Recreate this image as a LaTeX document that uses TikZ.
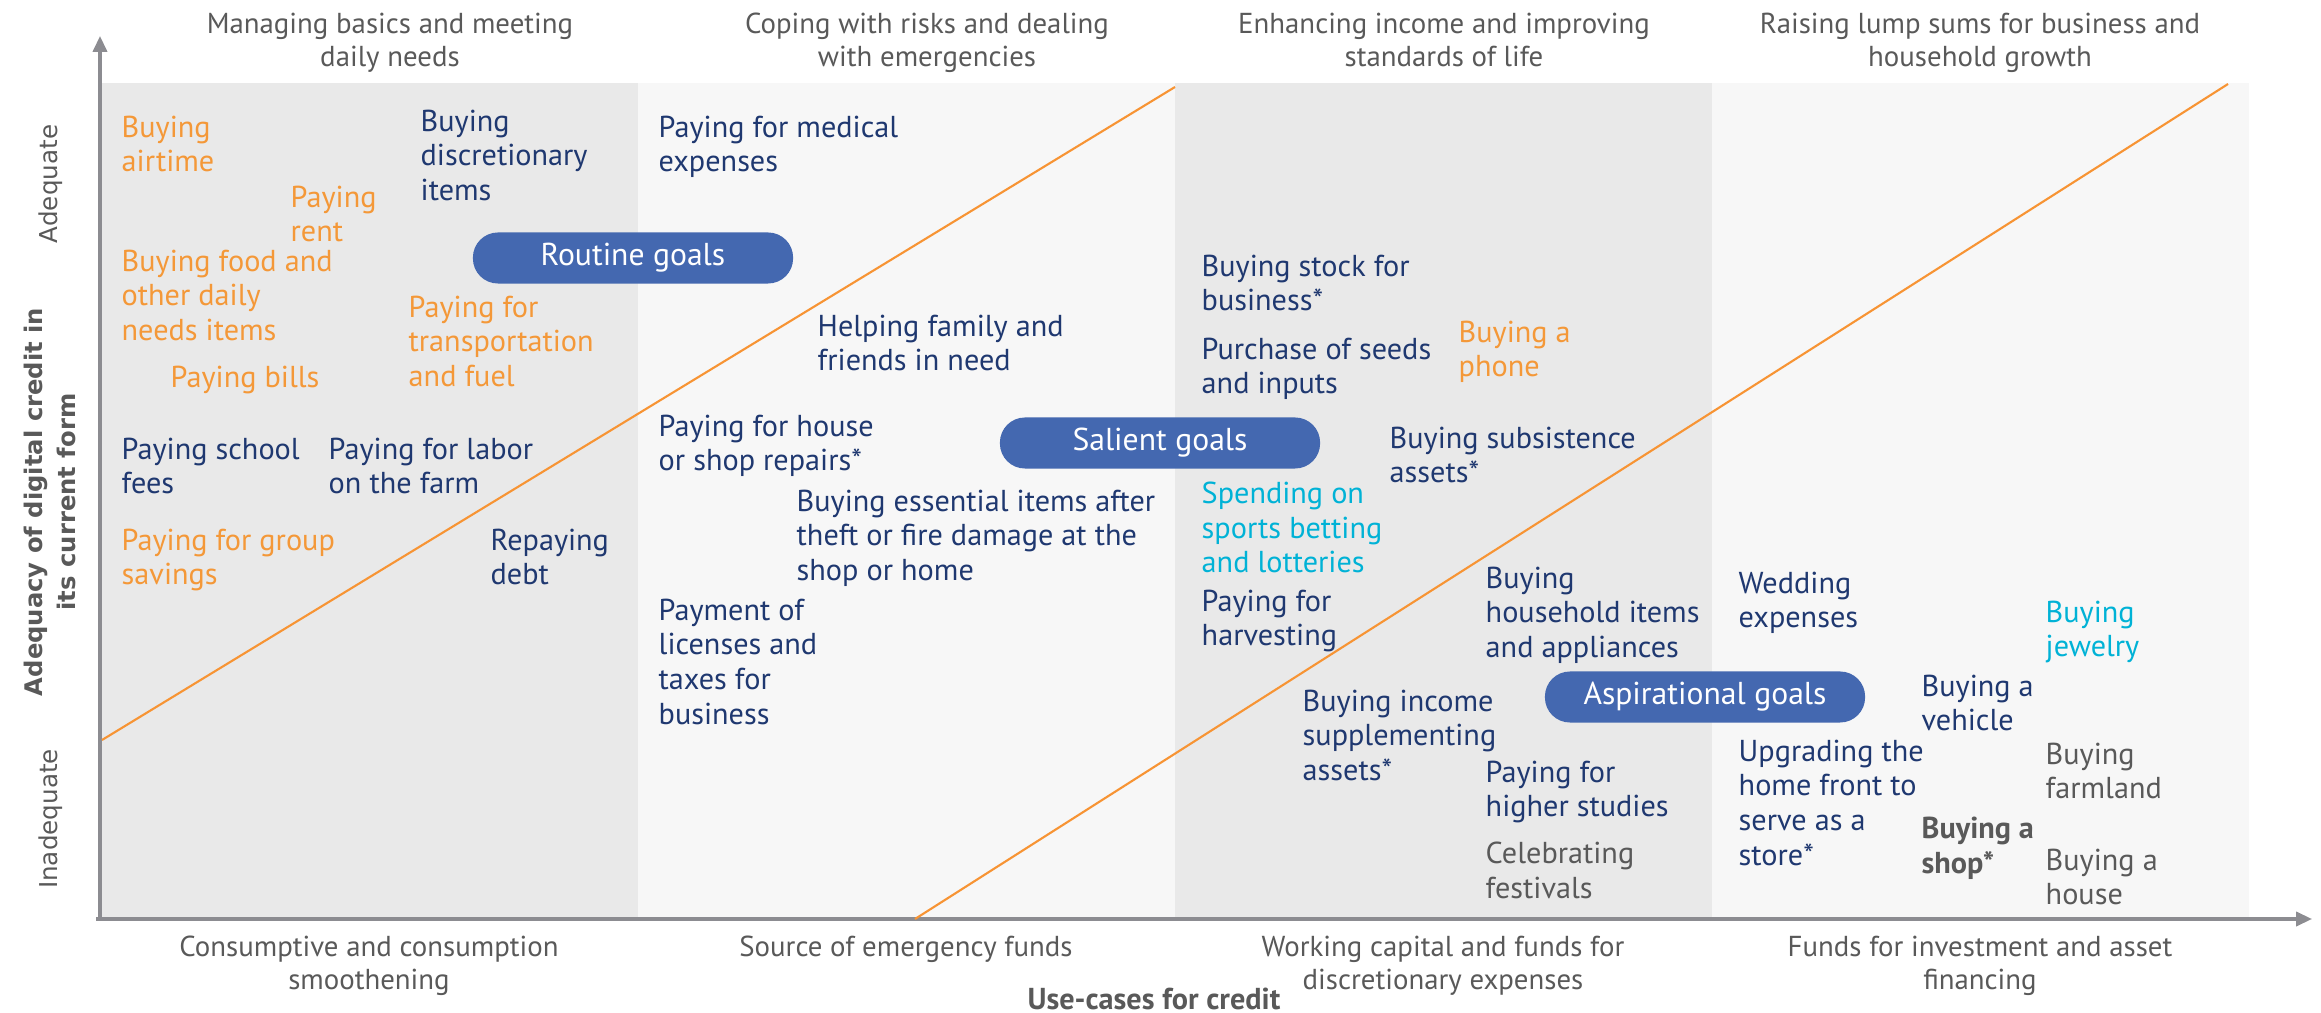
\documentclass[tikz,border=0pt]{standalone}
\usepackage{fontspec}
\setmainfont{PT Sans}
\newfontfamily\verdfont{DejaVu Sans}
\usetikzlibrary{arrows.meta}

\definecolor{navy}{RGB}{31,56,112}
\definecolor{orng}{RGB}{244,152,56}
\definecolor{skyc}{RGB}{0,178,214}
\definecolor{grytext}{RGB}{89,89,89}
\definecolor{pillc}{RGB}{68,104,176}
\definecolor{banddark}{RGB}{233,233,233}
\definecolor{bandlight}{RGB}{247,247,247}
\definecolor{axisgray}{RGB}{140,140,145}
\definecolor{linec}{RGB}{247,148,52}

\begin{document}
\begin{tikzpicture}[x=0.01cm,y=-0.01cm,
		item/.style={anchor=north west,inner sep=0pt,align=left,font=\fontsize{8.6}{9.9}\selectfont},
		head/.style={anchor=north,inner sep=0pt,align=center,text=grytext,font=\fontsize{8.2}{9.6}\selectfont},
		goal/.style={fill=pillc,text=white,rounded corners=0.25cm,minimum width=3.2cm,minimum height=0.51cm,inner sep=0pt,font=\fontsize{9}{10}\selectfont},
		level/.style={rotate=90,text=grytext,inner sep=0pt,font=\verdfont\fontsize{7}{8}\selectfont}]
			\useasboundingbox (0,0) rectangle (2321,1013);
			% bands
			\fill[banddark] (102,83) rectangle (638,917);
			\fill[bandlight] (638,83) rectangle (1175,917);
			\fill[banddark] (1175,83) rectangle (1712,917);
			\fill[bandlight] (1712,83) rectangle (2249,917);
			% axes
			\draw[axisgray,line width=0.9pt,-{Triangle[length=4.5pt,width=4pt]}](100,919) -- (100,36);
			\draw[axisgray,line width=0.9pt,-{Triangle[length=4.5pt,width=4pt]}](96,919) -- (2312,919);
			% diagonals
			\draw[linec,line width=0.6pt](102,740) -- (1175,87);
			\draw[linec,line width=0.6pt](915,919) -- (2228,84);
			% headers
			\node[head] (h1) at (390,12) {Managing basics and meeting\\daily needs};
			\node[head] (h2) at (927,12) {Coping with risks and dealing\\with emergencies};
			\node[head] (h3) at (1444,12) {Enhancing income and improving\\standards of life};
			\node[head] (h4) at (1980,12) {Raising lump sums for business and\\household growth};
			\node[head] (f1) at (369,935) {Consumptive and consumption\\smoothening};
			\node[head] (f2) at (906,935) {Source of emergency funds};
			\node[head] (f3) at (1443,935) {Working capital and funds for\\discretionary expenses};
			\node[head] (f4) at (1980,935) {Funds for investment and asset\\financing};
			\node[head,font=\bfseries\fontsize{8.6}{9.6}\selectfont] (xlab) at (1154,987) {Use-cases for credit};
			% y axis labels
			\node[level,align=center,font=\verdfont\bfseries\fontsize{6.9}{9.4}\selectfont] (ylab) at (50,502) {Adequacy of digital credit in\\its current form};
			\node[level] (adeq) at (51,184) {Adequate};
			\node[level] (inadeq) at (51,819) {Inadequate};
			% goals
			\node[goal] (routine) at (633,258) {Routine goals};
			\node[goal] (salient) at (1160,443) {Salient goals};
			\node[goal] (aspire) at (1705,697) {Aspirational goals};
			% basics
			\node[item,text=orng] (airtime) at (121,115) {Buying\\airtime};
			\node[item,text=orng] (rent) at (290,185) {Paying\\rent};
			\node[item,text=navy] (discr) at (420,109) {Buying\\discretionary\\items};
			\node[item,text=orng] (food) at (121,249) {Buying food and\\other daily\\needs items};
			\node[item,text=orng] (bills) at (170,365) {Paying bills};
			\node[item,text=orng] (transp) at (408,295) {Paying for\\transportation\\and fuel};
			\node[item,text=navy] (school) at (121,437) {Paying school\\fees};
			\node[item,text=navy] (labor) at (328,437) {Paying for labor\\on the farm};
			\node[item,text=orng] (group) at (121,528) {Paying for group\\savings};
			\node[item,text=navy] (debt) at (490,528) {Repaying\\debt};
			% emergencies
			\node[item,text=navy] (medical) at (658,115) {Paying for medical\\expenses};
			\node[item,text=navy] (helping) at (817,314) {Helping family and\\friends in need};
			\node[item,text=navy] (repairs) at (658,414) {Paying for house\\or shop repairs*};
			\node[item,text=navy] (essential) at (796,489) {Buying essential items after\\theft or fire damage at the\\shop or home};
			\node[item,text=navy] (licenses) at (658,598) {Payment of\\licenses and\\taxes for\\business};
			% income
			\node[item,text=navy] (stock) at (1201,254) {Buying stock for\\business*};
			\node[item,text=navy] (seeds) at (1201,337) {Purchase of seeds\\and inputs};
			\node[item,text=orng] (phone) at (1458,320) {Buying a\\phone};
			\node[item,text=navy] (subsist) at (1389,426) {Buying subsistence\\assets*};
			\node[item,text=skyc] (betting) at (1201,481) {Spending on\\sports betting\\and lotteries};
			\node[item,text=navy] (harvest) at (1201,589) {Paying for\\harvesting};
			\node[item,text=navy] (household) at (1485,566) {Buying\\household items\\and appliances};
			\node[item,text=navy] (incomeas) at (1302,689) {Buying income\\supplementing\\assets*};
			\node[item,text=navy] (studies) at (1485,760) {Paying for\\higher studies};
			\node[item,text=grytext] (festivals) at (1485,841) {Celebrating\\festivals};
			% lump sums
			\node[item,text=navy] (wedding) at (1738,571) {Wedding\\expenses};
			\node[item,text=skyc] (jewelry) at (2045,600) {Buying\\jewelry};
			\node[item,text=navy] (vehicle) at (1921,674) {Buying a\\vehicle};
			\node[item,text=navy] (upgrade) at (1738,739) {Upgrading the\\home front to\\serve as a\\store*};
			\node[item,text=grytext] (farmland) at (2045,742) {Buying\\farmland};
			\node[item,text=grytext,font=\bfseries\fontsize{8.6}{9.9}\selectfont] (shop) at (1921,816) {Buying a\\shop*};
			\node[item,text=grytext] (house) at (2045,848) {Buying a\\house};
		\end{tikzpicture}
\end{document}
